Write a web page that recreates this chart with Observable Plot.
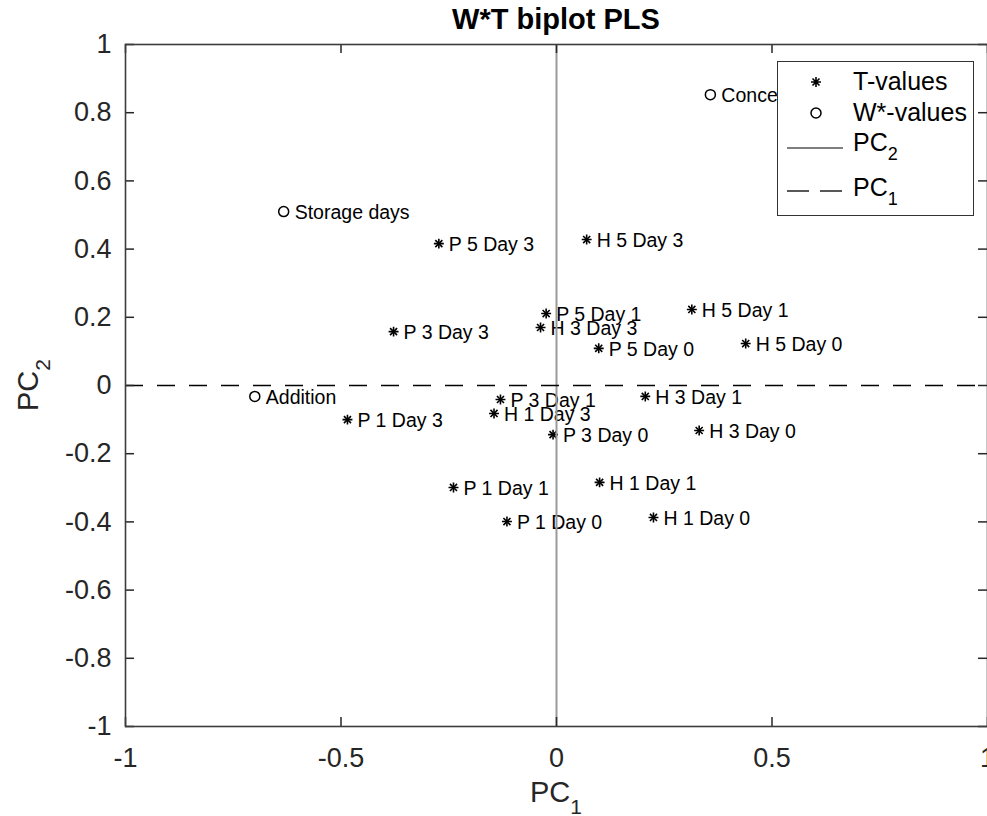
<!DOCTYPE html>
<html>
<head>
<meta charset="utf-8">
<script src="https://cdn.jsdelivr.net/npm/d3@7"></script>
<script src="https://cdn.jsdelivr.net/npm/@observablehq/plot@0.6"></script>
<style>
  body { margin: 0; background: #fff; font-family: "Liberation Sans", Arial, Helvetica, sans-serif; }
  #wrap { position: relative; width: 987px; height: 816px; overflow: hidden; background: #fff; }
  #chart { position: absolute; left: 0; top: 0; }
  .title { position: absolute; left: 125px; width: 862px; top: 5px; text-align: center; font-weight: bold; font-size: 29px; line-height: 29px; color: #000; }
  .xlab { position: absolute; left: 456px; width: 200px; top: 778px; text-align: center; font-size: 29px; line-height: 29px; color: #262626; }
  .ylab { position: absolute; left: 0px; top: 385px; width: 0; height: 0; }
  .ylab div { position: absolute; transform: translate(-50%, -50%) rotate(-90deg); left: 29px; top: 0; white-space: nowrap; font-size: 29px; line-height: 29px; color: #262626; }
  .sub { font-size: 21px; position: relative; top: 12px; }
  #legend { position: absolute; left: 777px; top: 61px; width: 197px; height: 155px; box-sizing: border-box; border: 1px solid #333; background: #fff; }
  #legend .lt { position: absolute; left: 75px; font-size: 25px; line-height: 25px; color: #000; white-space: nowrap; }
  #legend .lt .sub { font-size: 18px; top: 9px; }
</style>
</head>
<body>
<div id="wrap"></div>
<script>
// ---- data ----
const tLabels = ["P 5 Day 3","H 5 Day 3","P 5 Day 1","H 3 Day 3","P 3 Day 3","H 5 Day 1","P 5 Day 0","H 5 Day 0","P 3 Day 1","H 1 Day 3","P 3 Day 0","H 3 Day 1","H 3 Day 0","P 1 Day 3","P 1 Day 1","P 1 Day 0","H 1 Day 1","H 1 Day 0"];
const tX = [-0.273, 0.070, -0.024, -0.037, -0.378, 0.314, 0.098, 0.439, -0.130, -0.145, -0.008, 0.206, 0.331, -0.485, -0.239, -0.115, 0.100, 0.225];
const tY = [0.416, 0.428, 0.211, 0.170, 0.158, 0.223, 0.109, 0.123, -0.041, -0.082, -0.144, -0.032, -0.132, -0.100, -0.299, -0.399, -0.284, -0.387];

const wLabels = ["Storage days", "Addition", "Concentration"];
const wX = [-0.633, -0.700, 0.357];
const wY = [0.510, -0.032, 0.853];

const xTicks = [-1, -0.5, 0, 0.5, 1];
const yTicks = [-1, -0.8, -0.6, -0.4, -0.2, 0, 0.2, 0.4, 0.6, 0.8, 1];

const titleText = "W*T biplot PLS";
const xAxisName = "PC", xAxisSub = "1";
const yAxisName = "PC", yAxisSub = "2";
const legendNames = ["T-values", "W*-values", "PC", "PC"];
const legendSubs = ["", "", "2", "1"];

// ---- build ----
const W = 987, H = 816, mT = 44, mL = 125, mR = 0, mB = 90;
const xDom = [-1, 1], yDom = [-1, 1];
const frameW = W - mL - mR, frameH = H - mT - mB;
const TK = 9; // tick length in px, converted to data units below
const tkX = TK / frameW * (xDom[1] - xDom[0]);
const tkY = TK / frameH * (yDom[1] - yDom[0]);
const tData = tLabels.map((label, i) => ({label, x: tX[i], y: tY[i]}));
const wData = wLabels.map((label, i) => ({label, x: wX[i], y: wY[i]}));
const fmt = d => String(d);
const axisColor = "#3c3c3c";
const tickStyle = {stroke: "#262626", strokeWidth: 1.5};

const chart = Plot.plot({
  width: W,
  height: H,
  marginTop: mT,
  marginLeft: mL,
  marginRight: mR,
  marginBottom: mB,
  x: {domain: xDom, axis: null},
  y: {domain: yDom, axis: null},
  style: {fontFamily: "Liberation Sans, Arial, Helvetica, sans-serif", background: "transparent", color: "#262626"},
  marks: [
    // labels
    Plot.text(tData, {x: "x", y: "y", text: "label", textAnchor: "start", dx: 10, dy: 1, fontSize: 19.5, fill: "#000"}),
    Plot.text(wData, {x: "x", y: "y", text: "label", textAnchor: "start", dx: 11, dy: 1, fontSize: 19.5, fill: "#000"}),
    // markers
    Plot.dot(tData, {x: "x", y: "y", symbol: "plus", r: 3.3, stroke: "#000", strokeWidth: 1.6}),
    Plot.dot(tData, {x: "x", y: "y", symbol: "times", r: 3.3, stroke: "#000", strokeWidth: 1.6}),
    Plot.dot(wData, {x: "x", y: "y", symbol: "circle", r: 5, stroke: "#000", strokeWidth: 1.5, fill: "none"}),
    // PC axes lines
    Plot.ruleX([0], {stroke: "#9a9a9a", strokeWidth: 2}),
    Plot.ruleY([0], {stroke: "#000", strokeWidth: 1.5, strokeDasharray: "18,14"}),
    // inward ticks on all four sides
    Plot.ruleX(xTicks, {x: d => d, y1: yDom[0], y2: yDom[0] + tkY, ...tickStyle}),
    Plot.ruleX(xTicks, {x: d => d, y1: yDom[1], y2: yDom[1] - tkY, ...tickStyle}),
    Plot.ruleY(yTicks, {y: d => d, x1: xDom[0], x2: xDom[0] + tkX, ...tickStyle}),
    Plot.ruleY(yTicks, {y: d => d, x1: xDom[1], x2: xDom[1] - tkX, ...tickStyle}),
    // box and tick labels
    Plot.frame({stroke: axisColor, strokeWidth: 1.6}),
    Plot.axisX(xTicks, {anchor: "bottom", tickSize: 0, tickPadding: 21, fontSize: 27, tickFormat: fmt, label: null, fill: "#262626"}),
    Plot.axisY(yTicks, {anchor: "left", tickSize: 0, tickPadding: 14, fontSize: 27, tickFormat: fmt, label: null, fill: "#262626"})
  ]
});
chart.id = "chart";

const wrap = document.getElementById("wrap");
wrap.appendChild(chart);

// title and axis labels
const title = document.createElement("div");
title.className = "title";
title.textContent = titleText;
wrap.appendChild(title);

const xl = document.createElement("div");
xl.className = "xlab";
xl.innerHTML = `${xAxisName}<span class="sub">${xAxisSub}</span>`;
wrap.appendChild(xl);

const yl = document.createElement("div");
yl.className = "ylab";
yl.innerHTML = `<div>${yAxisName}<span class="sub">${yAxisSub}</span></div>`;
wrap.appendChild(yl);

// legend
const legend = document.createElement("div");
legend.id = "legend";
const rowsY = [20, 51, 81, 126];
legendNames.forEach((name, i) => {
  const t = document.createElement("div");
  t.className = "lt";
  t.style.top = (rowsY[i] - 13) + "px";
  t.innerHTML = legendSubs[i] ? `${name}<span class="sub">${legendSubs[i]}</span>` : name;
  legend.appendChild(t);
});
const ns = "http://www.w3.org/2000/svg";
const sw = document.createElementNS(ns, "svg");
sw.setAttribute("width", 70);
sw.setAttribute("height", 150);
sw.style.position = "absolute";
sw.style.left = "0px";
sw.style.top = "0px";
sw.innerHTML = `
  <g stroke="#000" stroke-width="1.6" fill="none">
    <path d="M38,${rowsY[0]-5}v10M33,${rowsY[0]}h10M34.5,${rowsY[0]-3.5}l7,7M41.5,${rowsY[0]-3.5}l-7,7"/>
    <circle cx="38" cy="${rowsY[1]}" r="5" stroke-width="1.5"/>
  </g>
  <line x1="9" x2="65" y1="86" y2="86" stroke="#555" stroke-width="1.3"/>
  <line x1="9" x2="65" y1="129" y2="129" stroke="#222" stroke-width="1.3" stroke-dasharray="22,11"/>
`;
legend.appendChild(sw);
wrap.appendChild(legend);
</script>
</body>
</html>
